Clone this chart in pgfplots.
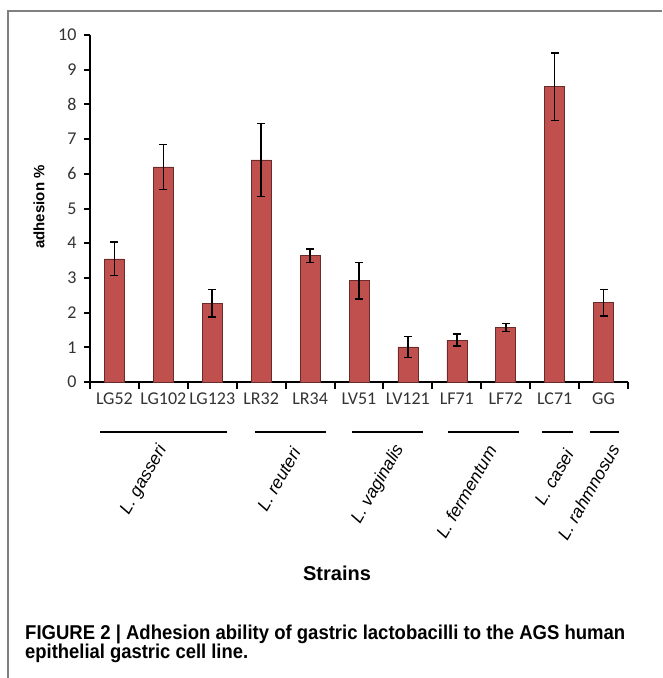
\documentclass[border=0pt]{standalone}
\usepackage{pgfplots}
\pgfplotsset{compat=1.18}
\usepackage{fontspec}
\usepackage{graphicx}
\setmainfont{Liberation Sans}
\newfontfamily\carlito{Carlito}
\definecolor{barred}{HTML}{C0504D}
\definecolor{framegray}{HTML}{808080}
\pgfplotstableread{
x y e
0 3.55 0.48
1 6.20 0.65
2 2.27 0.40
3 6.40 1.05
4 3.64 0.20
5 2.92 0.52
6 1.01 0.30
7 1.21 0.18
8 1.57 0.12
9 8.51 0.97
10 2.29 0.38
}\adhesion
\begin{document}
\begin{tikzpicture}
\useasboundingbox (0,0) rectangle (662pt,-678pt);
\draw[framegray, line width=2pt] (8pt,-678pt) -- (8pt,-11pt) -- (662pt,-11pt);
\begin{axis}[
  at={(90pt,-382pt)}, anchor=south west,
  scale only axis, width=538pt, height=347pt,
  xmin=-0.5, xmax=10.5, ymin=0, ymax=10,
  axis x line*=bottom, axis y line*=left,
  axis line style={-, line width=2pt, black},
  xtick={0,...,10},
  xticklabels={LG52,LG102,LG123,LR32,LR34,LV51,LV121,LF71,LF72,LC71,GG},
  minor xtick={-0.5,0.5,...,10.5},
  major x tick style={draw=none},
  minor x tick style={line width=2pt, black},
  minor tick length=7pt,
  ytick={0,...,10},
  ytick style={line width=2pt, black},
  major tick length=6pt,
  tick align=outside,
  tick label style={font=\carlito\fontsize{18}{18}\selectfont, text=black!80},
  yticklabel style={xshift=-4pt},
  xticklabel style={anchor=base, yshift=-16pt},
  /pgf/number format/assume math mode=true,
  clip=false,
]
\addplot[ybar, bar width=20pt, fill=barred, draw=barred!55!black, line width=0.6pt,
  error bars/.cd, y dir=both, y explicit,
  error bar style={line width=1.6pt, black},
  error mark options={rotate=90, mark size=4pt, line width=1.6pt, black}]
  table[x=x, y=y, y error=e] {\adhesion};
\end{axis}
% group lines
\foreach \a/\b in {100/227, 255/326, 352/423, 448/519, 542/573, 590/619}
  \draw[line width=1.5pt] (\a pt,-432pt) -- (\b pt,-432pt);
% species labels
\begin{scope}[every node/.style={rotate=60, anchor=east, inner sep=0pt,
    font=\itshape\fontsize{17.5}{17.5}\selectfont}]
\node at (163pt,-447pt) {L. gasseri};
\node at (296pt,-449pt) {L. reuteri};
\node at (400pt,-446pt) {L. vaginalis};
\node at (492pt,-447pt) {L. fermentum};
\node at (569pt,-451pt) {L. casei};
\node at (615pt,-446pt) {L. rahmnosus};
\end{scope}
\node[rotate=90, font=\bfseries\fontsize{15}{15}\selectfont] at (39pt,-207pt) {adhesion \%};
\node[font=\bfseries\fontsize{20}{20}\selectfont] at (337pt,-573pt) {Strains};
\node[anchor=base west, inner sep=0pt, font=\bfseries\fontsize{20}{20}\selectfont]
  at (25pt,-639pt) {\resizebox{600pt}{\height}{FIGURE 2 | Adhesion ability of gastric lactobacilli to the AGS human}};
\node[anchor=base west, inner sep=0pt, font=\bfseries\fontsize{20}{20}\selectfont]
  at (25pt,-658pt) {\resizebox{223pt}{\height}{epithelial gastric cell line.}};
\end{tikzpicture}
\end{document}
